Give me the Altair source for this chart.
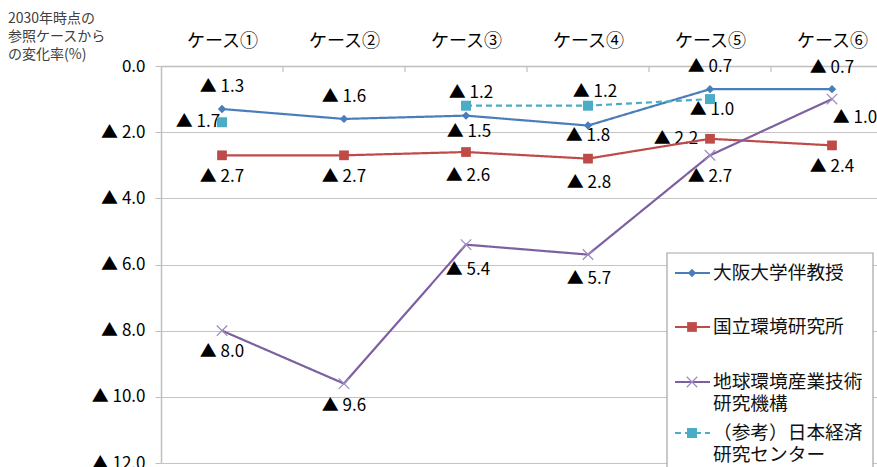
import altair as alt
import pandas as pd

# ---------------- data ----------------
cases = ["ケース①", "ケース②", "ケース③", "ケース④", "ケース⑤", "ケース⑥"]
series_names = ["大阪大学伴教授", "国立環境研究所", "地球環境産業技術研究機構", "（参考）日本経済研究センター"]
legend_lines = [["大阪大学伴教授"], ["国立環境研究所"], ["地球環境産業技術", "研究機構"], ["（参考）日本経済", "研究センター"]]
osaka = [1.3, 1.6, 1.5, 1.8, 0.7, 0.7]
nies = [2.7, 2.7, 2.6, 2.8, 2.2, 2.4]
rite = [8.0, 9.6, 5.4, 5.7, 2.7, 1.0]
jcer = [1.7, None, 1.2, 1.2, 1.0, None]
y_ticks = [0, 2, 4, 6, 8, 10, 12]
title_lines = ["2030年時点の", "参照ケースから", "の変化率(%)"]

# ---------------- styling ----------------
FONT = "Noto Sans CJK JP"
colors = ["#4a7ebb", "#be4b48", "#7d60a0", "#4bacc6"]
marker_colors = ["#4a7ebb", "#be4b48", "#9f8cc4", "#4bacc6"]
XSHAPE = "M-1,-1L1,1M-1,1L1,-1"
shapes = ["diamond", "square", XSHAPE, "square"]
sizes = [70, 95, 110, 100]
filled = [True, True, False, True]
dashes = [[1, 0], [1, 0], [1, 0], [6, 4]]
# label offsets (dx, dy) in pixels for each point label
label_offsets = [
    [(0, -22), (0, -22), (3, 16), (0, 10), (0, -22), (0, -21)],
    [(0, 22), (0, 22), (2, 24), (1, 24), (-34, 0), (0, 22)],
    [(0, 21), (0, 22), (2, 25), (1, 24), (0, 22), (23, 19)],
    [(-24, 0), None, (5, -13), (7, -14), (2, 11), None],
]

W, H = 716, 397
X_MIN, X_MAX = 0.5, 0.5 + W / 122.0

xscale = alt.Scale(domain=[X_MIN, X_MAX], nice=False, zero=False)
yscale = alt.Scale(domain=[0, 12], reverse=True, nice=False, zero=False)

case_expr = "[" + ",".join("'%s'" % c for c in cases) + "][datum.value - 1]"
x_axis = alt.Axis(orient="top", values=list(range(1, 7)), labelExpr=case_expr, title=None,
                  grid=False, ticks=False, domainColor="#bfbfbf", domainWidth=1.5,
                  labelFont=FONT, labelFontSize=18, labelColor="#000000", labelPadding=16,
                  labelBaseline="bottom")
y_axis = alt.Axis(values=y_ticks, title=None, grid=True, gridColor="#c4c4c4", gridWidth=1.2,
                  domainColor="#bfbfbf", domainWidth=1.5, tickColor="#bfbfbf", tickSize=6,
                  labelExpr="datum.value == 0 ? '0.0' : '▲ ' + format(datum.value, '.1f')",
                  labelFont=FONT, labelFontSize=17, labelColor="#000000", labelPadding=10)

X = alt.X("i:Q", scale=xscale, axis=x_axis)
Y = alt.Y("v:Q", scale=yscale, axis=y_axis)

all_series = [osaka, nies, rite, jcer]

layers = []

# inward tick marks on top axis between categories
ticks_df = pd.DataFrame({"i": [k + 1.5 for k in range(len(cases) - 1)]})
layers.append(alt.Chart(ticks_df).mark_rule(color="#bfbfbf", strokeWidth=1.2).encode(
    x=alt.X("i:Q", scale=xscale, axis=x_axis), y=alt.value(0), y2=alt.value(6)))

# labels
for s, vals in enumerate(all_series):
    groups = {}
    for k, v in enumerate(vals):
        if v is None:
            continue
        off = label_offsets[s][k]
        groups.setdefault(off, []).append({"i": k + 1, "v": v, "t": "▲ %.1f" % v})
    for (dx, dy), rows in groups.items():
        layers.append(alt.Chart(pd.DataFrame(rows)).mark_text(
            font=FONT, fontSize=17, color="#000000", dx=dx, dy=dy, align="center", baseline="middle"
        ).encode(x=X, y=Y, text="t:N"))

# lines and points
for s, vals in enumerate(all_series):
    rows = []
    seg = 0
    for k, v in enumerate(vals):
        if v is None:
            seg += 1
            continue
        rows.append({"i": k + 1, "v": v, "seg": seg})
    df = pd.DataFrame(rows)
    counts = df.groupby("seg")["i"].transform("count")
    line_df = df[counts > 1]
    layers.append(alt.Chart(line_df).mark_line(
        color=colors[s], strokeWidth=2.2, strokeDash=dashes[s]
    ).encode(x=X, y=Y, detail="seg:N", order="i:Q"))
    pt_kwargs = dict(shape=shapes[s], size=sizes[s], opacity=1)
    if filled[s]:
        pt_kwargs.update(filled=True, color=marker_colors[s])
    else:
        pt_kwargs.update(filled=False, color=marker_colors[s], strokeWidth=1.3)
    layers.append(alt.Chart(df).mark_point(**pt_kwargs).encode(x=X, y=Y))

# legend (manual)
one = pd.DataFrame({"k": [0]})
layers.append(alt.Chart(one).mark_rect(fill="#ffffff", stroke="#a6a6a6", strokeWidth=1.2).encode(
    x=alt.value(506), x2=alt.value(712), y=alt.value(187), y2=alt.value(440)))
entry_y = [207, 261, 316, 367]
for s in range(len(series_names)):
    yy = entry_y[s]
    layers.append(alt.Chart(one).mark_rule(color=colors[s], strokeWidth=2.2, strokeDash=dashes[s]).encode(
        x=alt.value(514), x2=alt.value(549), y=alt.value(yy)))
    pt_kwargs = dict(shape=shapes[s], size=sizes[s], opacity=1, color=marker_colors[s])
    if filled[s]:
        pt_kwargs.update(filled=True)
    else:
        pt_kwargs.update(filled=False, strokeWidth=1.3)
    layers.append(alt.Chart(one).mark_point(**pt_kwargs).encode(x=alt.value(531), y=alt.value(yy)))
    for j, line in enumerate(legend_lines[s]):
        layers.append(alt.Chart(one).mark_text(
            text=line, font=FONT, fontSize=18.7, color="#111111", align="left", baseline="middle"
        ).encode(x=alt.value(552), y=alt.value(yy + 22 * j)))

# axis caption at top-left
for j, line in enumerate(title_lines):
    layers.append(alt.Chart(one).mark_text(
        text=line, font=FONT, fontSize=14, color="#404040", align="left", baseline="middle"
    ).encode(x=alt.value(-153), y=alt.value(-47 + 18 * j)))

chart = alt.layer(*layers).properties(
    width=W, height=H,
    autosize=alt.AutoSizeParams(type="none"),
    padding={"left": 161, "top": 66, "right": 0, "bottom": 4},
    background="#ffffff",
).configure_view(stroke=None)

chart.save("out.html", embed_options={"renderer": "svg", "actions": False})
